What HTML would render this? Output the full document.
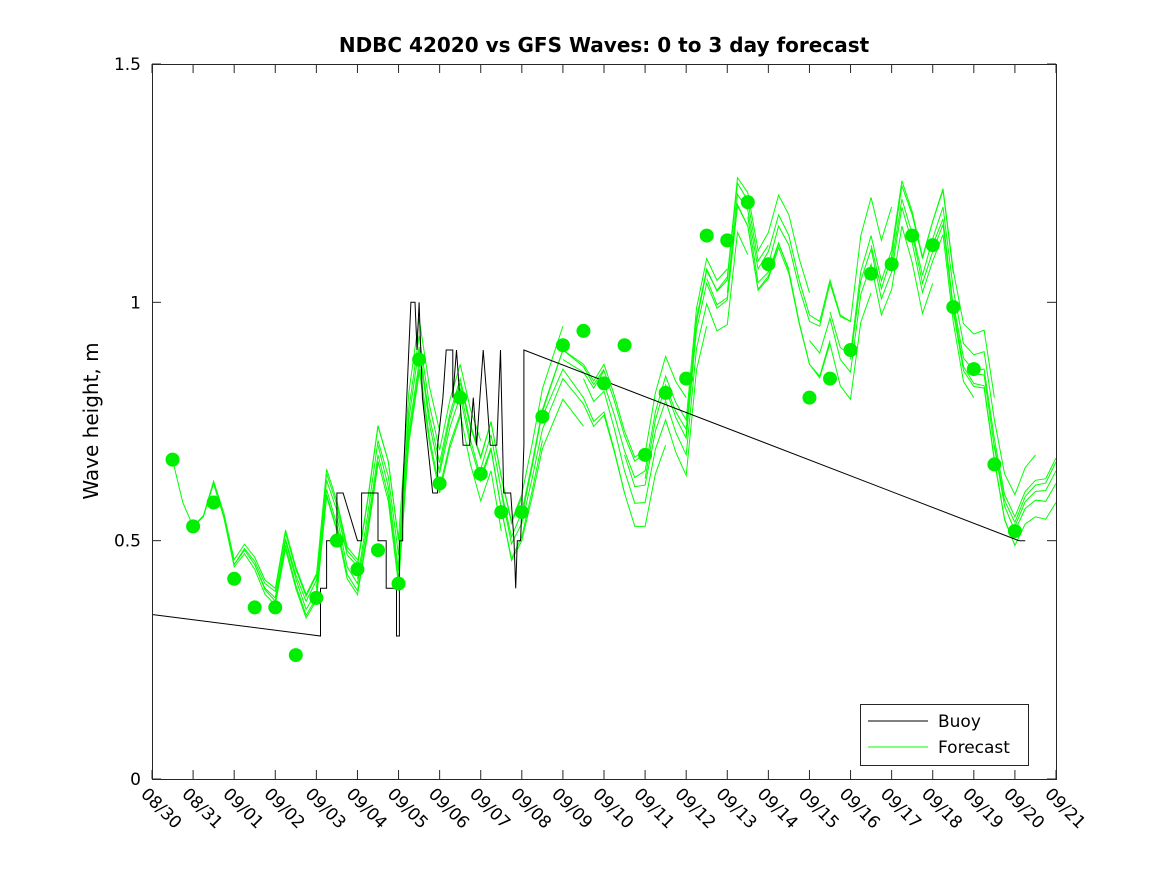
<!DOCTYPE html>
<html><head><meta charset="utf-8"><style>
body{margin:0;background:#fff}
svg text{font-family:"Liberation Sans","DejaVu Sans",sans-serif}
</style></head><body>
<svg id="chart" width="1167" height="875" xmlns="http://www.w3.org/2000/svg">
<rect width="1167" height="875" fill="#fff"/>
<text x="604" y="52" text-anchor="middle" font-size="20" font-weight="bold" style="font-family:'DejaVu Sans',sans-serif">NDBC 42020 vs GFS Waves: 0 to 3 day forecast</text>
<text transform="translate(98,421) rotate(-90)" text-anchor="middle" font-size="20" style="font-family:'DejaVu Sans',sans-serif">Wave height, m</text>
<g id="plot"></g>
<rect x="152.5" y="64.5" width="904" height="715" fill="none" stroke="#262626" stroke-width="1"/>
<g>
<rect x="860.5" y="704.5" width="168" height="61" fill="#fff" stroke="#262626"/>
<line x1="868" y1="721" x2="928" y2="721" stroke="#000"/>
<text x="938" y="727" font-size="17" style="font-family:'DejaVu Sans',sans-serif">Buoy</text>
<line x1="868" y1="747" x2="928" y2="747" stroke="#00ff00"/>
<text x="938" y="753" font-size="17" style="font-family:'DejaVu Sans',sans-serif">Forecast</text>
</g>
</svg>
<script>
const xTickLabels=["08/30","08/31","09/01","09/02","09/03","09/04","09/05","09/06","09/07","09/08","09/09","09/10","09/11","09/12","09/13","09/14","09/15","09/16","09/17","09/18","09/19","09/20","09/21"];
const yTicks=[0,0.5,1,1.5];
const yTickLabels=["0","0.5","1","1.5"];
const buoyDays=[0,4.1,4.1,4.25,4.25,4.5,4.5,4.65,5,5.1,5.1,5.5,5.5,5.7,5.7,5.95,5.95,6.02,6.02,6.1,6.1,6.25,6.3,6.4,6.45,6.5,6.58,6.71,6.83,6.95,6.95,7.08,7.16,7.32,7.32,7.41,7.57,7.73,7.82,7.90,8.06,8.15,8.23,8.39,8.48,8.56,8.73,8.81,8.85,8.89,8.97,9.05,9.05,21.1,21.25];
const buoyVals=[0.345,0.30,0.40,0.40,0.5,0.5,0.6,0.6,0.5,0.5,0.6,0.6,0.5,0.5,0.4,0.4,0.3,0.3,0.5,0.5,0.6,0.9,1.0,1.0,0.9,1.0,0.8,0.7,0.6,0.6,0.7,0.8,0.9,0.9,0.8,0.9,0.7,0.7,0.8,0.7,0.9,0.8,0.7,0.7,0.9,0.6,0.6,0.5,0.4,0.5,0.5,0.7,0.9,0.5,0.5];
const baseStartDay=0.5, baseStep=0.25;
const baseVals=[0.67,0.58,0.53,0.55,0.62,0.55,0.45,0.48,0.45,0.40,0.38,0.50,0.42,0.36,0.40,0.62,0.55,0.45,0.42,0.55,0.70,0.62,0.45,0.75,0.90,0.75,0.65,0.75,0.82,0.72,0.65,0.72,0.60,0.50,0.55,0.65,0.76,0.82,0.88,0.86,0.84,0.80,0.83,0.76,0.68,0.62,0.63,0.75,0.82,0.76,0.72,0.95,1.05,1.00,1.02,1.22,1.18,1.05,1.08,1.15,1.10,1.00,0.92,0.90,0.98,0.90,0.88,1.05,1.12,1.02,1.08,1.22,1.15,1.05,1.12,1.18,1.00,0.88,0.85,0.85,0.70,0.58,0.53,0.58,0.60,0.60,0.64];
const runStarts=[0.5,1,1.5,2,2.5,3,3.5,4,4.5,5,5.5,6,6.5,7,7.5,8,8.5,9,9.5,10,10.5,11,11.5,12,12.5,13,13.5,14,14.5,15,16,16.5,17,17.5,18,18.5,19,19.5,20,20.5,21];
const runBias=[0,0.03,-0.03,0.04,-0.04,0.05,-0.05,0.08,-0.06,0.06,-0.08,0.04,-0.05,0.07,-0.1,0.03,-0.08,0.06,-0.12,0.08,-0.1,0.05,-0.08,0.04,-0.03,0.1,-0.06,0.08,-0.1,0.12,-0.08,0.06,-0.05,0.1,-0.04,0.08,-0.06,0.04,-0.03,0.05,0.02];
const runLength=3;
const dotDays=[0.5,1,1.5,2,2.5,3,3.5,4,4.5,5,5.5,6,6.5,7,7.5,8,8.5,9,9.5,10,10.5,11,11.5,12,12.5,13,13.5,14,14.5,15,16,16.5,17,17.5,18,18.5,19,19.5,20,20.5,21];
const dotVals=[0.67,0.53,0.58,0.42,0.36,0.36,0.26,0.38,0.50,0.44,0.48,0.41,0.88,0.62,0.80,0.64,0.56,0.56,0.76,0.91,0.94,0.83,0.91,0.68,0.81,0.84,1.14,1.13,1.21,1.08,0.80,0.84,0.90,1.06,1.08,1.14,1.12,0.99,0.86,0.66,0.52];

const NS="http://www.w3.org/2000/svg";
const svg=document.getElementById('chart');
const plot=document.getElementById('plot');
const x=d=>152+d*(904/22);
const y=v=>779-v*(715/1.5);
function mk(tag,attrs,parent){const e=document.createElementNS(NS,tag);for(const k in attrs)e.setAttribute(k,attrs[k]);(parent||plot).appendChild(e);return e;}

xTickLabels.forEach((lab,i)=>{
  const tx=x(i);
  const t=mk('line',{x1:tx,y1:779,x2:tx,y2:770,stroke:'#262626'});
  
  
  const t2=mk('line',{x1:tx,y1:64,x2:tx,y2:73,stroke:'#262626'});
  
  
  const tl=mk('text',{x:0,y:0,'font-size':17,transform:`translate(${tx-12},${795}) rotate(45)`,style:"font-family:'DejaVu Sans',sans-serif"},svg);
  tl.textContent=lab;
  
  
});
yTicks.forEach((v,i)=>{
  const ty=y(v);
  const t=mk('line',{x1:152,y1:ty,x2:161,y2:ty,stroke:'#262626'});
  
  
  const t2=mk('line',{x1:1056,y1:ty,x2:1047,y2:ty,stroke:'#262626'});
  
  
  const tl=mk('text',{x:141,y:ty+6,'text-anchor':'end','font-size':17,style:"font-family:'DejaVu Sans',sans-serif"},svg);
  tl.textContent=yTickLabels[i];
  
  
});

runStarts.forEach((s,r)=>{
  const pts=[];
  for(let k=0;k<baseVals.length;k++){
    const d=baseStartDay+k*baseStep;
    if(d>=s-1e-9 && d<=s+runLength+1e-9){
      const w=(d-s)/runLength;
      pts.push(x(d).toFixed(1)+','+y(baseVals[k]+runBias[r]*w).toFixed(1));
    }
  }
  if(pts.length<2)return;
  const p=mk('polyline',{points:pts.join(' '),fill:'none',stroke:'#00ff00','stroke-width':1});
  
  
});

const bp=mk('polyline',{points:buoyDays.map((d,i)=>x(d).toFixed(1)+','+y(buoyVals[i]).toFixed(1)).join(' '),fill:'none',stroke:'#000','stroke-width':1});



dotDays.forEach((d,i)=>{
  const c=mk('circle',{cx:x(d),cy:y(dotVals[i]),r:7,fill:'#00ee00'});
  
  
});
</script>
</body></html>
